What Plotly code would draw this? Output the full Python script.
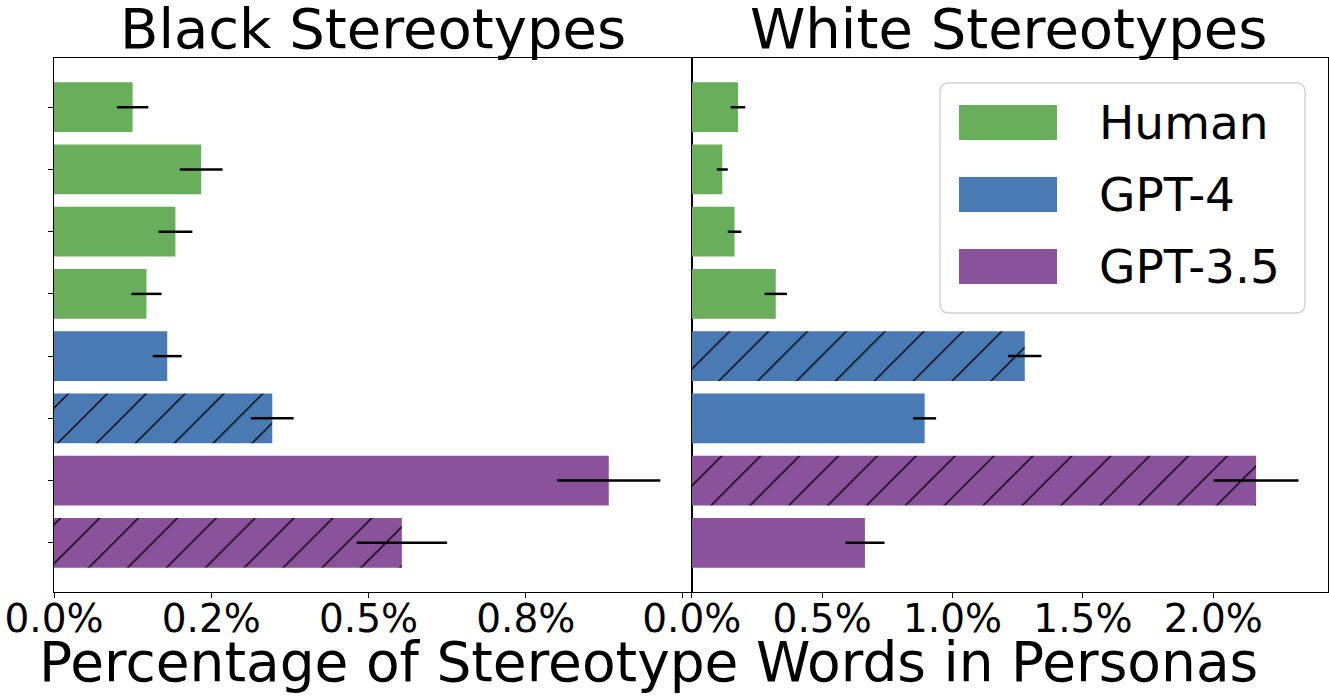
import plotly.graph_objects as go

# ---------------- data ----------------
row_ids = ["Human 1", "Human 2", "Human 3", "Human 4",
           "GPT-4 a", "GPT-4 b", "GPT-3.5 a", "GPT-3.5 b"]
row_model = ["Human", "Human", "Human", "Human", "GPT-4", "GPT-4", "GPT-3.5", "GPT-3.5"]

black_vals = [0.125, 0.234, 0.193, 0.147, 0.180, 0.347, 0.882, 0.553]
black_err = [0.025, 0.034, 0.027, 0.024, 0.023, 0.034, 0.082, 0.072]
black_hatch = [False, False, False, False, False, True, False, True]

white_vals = [0.177, 0.117, 0.164, 0.322, 1.277, 0.893, 2.164, 0.664]
white_err = [0.028, 0.021, 0.026, 0.043, 0.064, 0.044, 0.163, 0.075]
white_hatch = [False, False, False, False, True, False, True, False]

black_ticks = [0, 0.25, 0.5, 0.75, 1.0]
black_ticktext = ["0.0%", "0.2%", "0.5%", "0.8%", ""]
white_ticks = [0, 0.5, 1.0, 1.5, 2.0]
white_ticktext = ["0.0%", "0.5%", "1.0%", "1.5%", "2.0%"]

panel_titles = ["Black Stereotypes", "White Stereotypes"]
x_title = "Percentage of Stereotype Words in Personas"
legend_labels = ["Human", "GPT-4", "GPT-3.5"]

# ---------------- style ----------------
model_colors = {"Human": "#69ae5a", "GPT-4": "#4a7ab3", "GPT-3.5": "#8b529c"}
FONT = "DejaVu Sans"

W, H = 1329, 698
L, R, T, B = 54, 1, 58, 106
pw, ph = W - L - R, H - T - B


def fx(px):
    return (px - L) / pw


def fy(py):
    return (H - B - py) / ph


split = fx(691.8)

fig = go.Figure()


def add_panel(vals, errs, hatch, xaxis):
    yaxis = "y" if xaxis == "x" else "y2"
    for model in legend_labels:
        idx = [i for i, m in enumerate(row_model) if m == model]
        fig.add_trace(go.Bar(
            x=[vals[i] for i in idx], y=idx, orientation="h", width=0.8,
            name=model,
            marker=dict(
                color=model_colors[model],
                line=dict(width=0),
                pattern=dict(
                    shape=["/" if hatch[i] else "" for i in idx],
                    fillmode="overlay", fgcolor="black", fgopacity=1,
                    size=27.5, solidity=0.05,
                ),
            ),
            error_x=dict(type="data", array=[errs[i] for i in idx], symmetric=True,
                         color="black", thickness=2.5, width=0),
            xaxis=xaxis, yaxis=yaxis,
            showlegend=False, hoverinfo="x+y+name",
            customdata=[row_ids[i] for i in idx],
        ))


add_panel(black_vals, black_err, black_hatch, "x")
add_panel(white_vals, white_err, white_hatch, "x2")

axis_common = dict(showline=True, mirror=True, linecolor="black", linewidth=1.2,
                   showgrid=False, zeroline=False, ticks="outside", ticklen=5,
                   tickwidth=1.2, tickcolor="black", ticklabelstandoff=-13,
                   automargin=False,
                   tickfont=dict(family=FONT, size=39, color="black"))

fig.update_layout(
    width=W, height=H,
    margin=dict(l=L, r=R, t=T, b=B, pad=0, autoexpand=False),
    paper_bgcolor="white", plot_bgcolor="white",
    font=dict(family=FONT, color="black"),
    barmode="overlay",
    xaxis=dict(domain=[0, split], range=[0, 1.014], tickvals=black_ticks,
               ticktext=black_ticktext, anchor="y", **axis_common),
    xaxis2=dict(domain=[split, 1], range=[0, 2.44], tickvals=white_ticks,
                ticktext=white_ticktext, anchor="y2", **axis_common),
    yaxis=dict(domain=[0, 1], range=[7.79, -0.79], tickvals=list(range(8)),
               showticklabels=False, showline=True, mirror=True, linecolor="black",
               linewidth=1.2, showgrid=False, zeroline=False, ticks="outside",
               ticklen=5, tickwidth=1.2, tickcolor="black", anchor="x",
               automargin=False),
    yaxis2=dict(domain=[0, 1], range=[7.79, -0.79], showticklabels=False,
                showline=True, mirror=True, linecolor="black", linewidth=1.2,
                showgrid=False, zeroline=False, ticks="", anchor="x2",
                matches="y", automargin=False),
)

annotations = [
    dict(text=panel_titles[0], x=fx(373), y=fy(28.5), xref="paper", yref="paper",
         xanchor="center", yanchor="middle", showarrow=False,
         font=dict(family=FONT, size=56, color="black")),
    dict(text=panel_titles[1], x=fx(1008), y=fy(28.5), xref="paper", yref="paper",
         xanchor="center", yanchor="middle", showarrow=False,
         font=dict(family=FONT, size=56, color="black")),
    dict(text=x_title, x=fx(648), y=fy(662), xref="paper", yref="paper",
         xanchor="center", yanchor="middle", showarrow=False,
         font=dict(family=FONT, size=55, color="black")),
]

# ---------------- legend (drawn) ----------------
bx0, bx1, by0, by1, rr = 940, 1305, 83, 313, 9
path = (f"M{fx(bx0 + rr)},{fy(by0)} L{fx(bx1 - rr)},{fy(by0)} "
        f"Q{fx(bx1)},{fy(by0)} {fx(bx1)},{fy(by0 + rr)} "
        f"L{fx(bx1)},{fy(by1 - rr)} Q{fx(bx1)},{fy(by1)} {fx(bx1 - rr)},{fy(by1)} "
        f"L{fx(bx0 + rr)},{fy(by1)} Q{fx(bx0)},{fy(by1)} {fx(bx0)},{fy(by1 - rr)} "
        f"L{fx(bx0)},{fy(by0 + rr)} Q{fx(bx0)},{fy(by0)} {fx(bx0 + rr)},{fy(by0)} Z")
shapes = [dict(type="path", path=path, xref="paper", yref="paper",
               fillcolor="rgba(255,255,255,0.85)",
               line=dict(color="#d4d4d4", width=1.5), layer="above")]
swatch_tops = [105, 177, 249]
for lab, top in zip(legend_labels, swatch_tops):
    shapes.append(dict(type="rect", xref="paper", yref="paper",
                       x0=fx(959), x1=fx(1057), y0=fy(top), y1=fy(top + 35),
                       fillcolor=model_colors[lab], line=dict(width=0), layer="above"))
    annotations.append(dict(text=lab, x=fx(1097), y=fy(top + 17.5), xref="paper",
                            yref="paper", xanchor="left", yanchor="middle",
                            showarrow=False,
                            font=dict(family=FONT, size=47, color="black")))

fig.update_layout(shapes=shapes, annotations=annotations)

fig.write_html(
    "out.html",
    config={"displayModeBar": False},
    post_script="document.body.style.margin='0';document.body.style.overflow='hidden';",
)
